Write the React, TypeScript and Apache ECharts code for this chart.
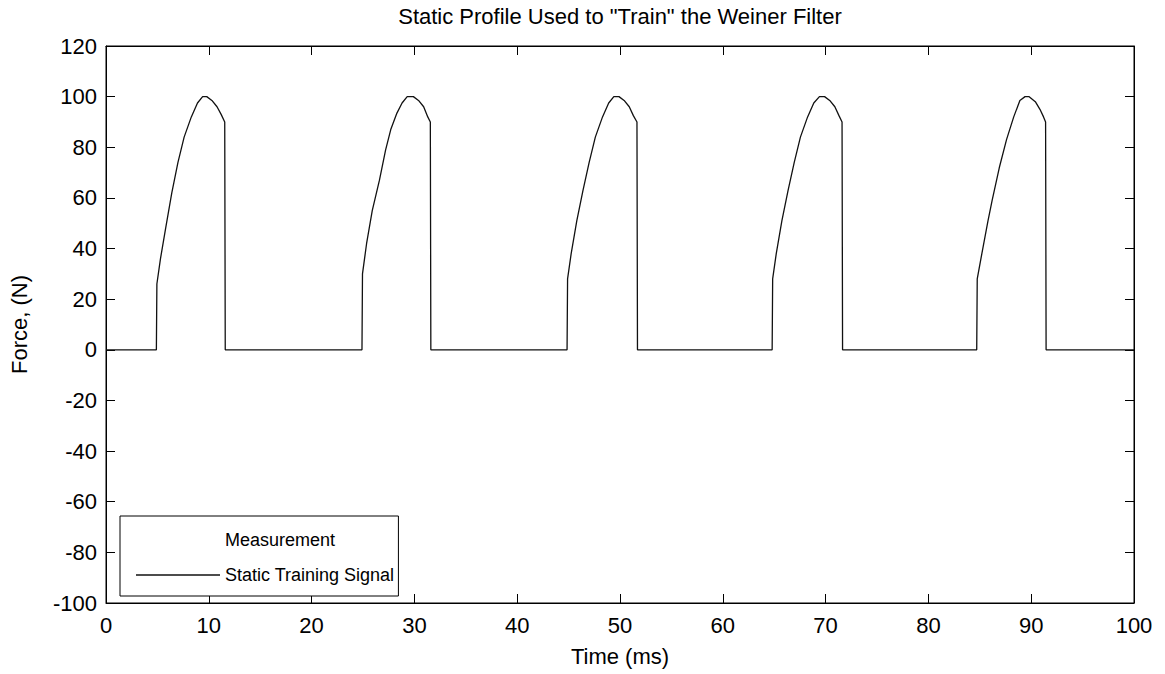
import React, { useEffect, useRef } from "react";
import * as echarts from "echarts";

const titleText = 'Static Profile Used to "Train" the Weiner Filter';
const xName = "Time (ms)";
const yName = "Force, (N)";
const legendNames = ["Measurement", "Static Training Signal"];

const xTicks = { min: 0, max: 100, interval: 10 };
const yTicks = { min: -100, max: 120, interval: 20 };

// [time (ms), force (N)]
const baseline0: number[][] = [[0, 0], [4.9, 0]];
const pulse1: number[][] = [
  [4.95, 26], [5.3, 36], [5.8, 48], [6.4, 62], [7.0, 74], [7.6, 84], [8.3, 92],
  [8.9, 97.5], [9.4, 100], [9.8, 100], [10.3, 98.5], [10.8, 96], [11.2, 93], [11.55, 90], [11.6, 0],
];
const baseline1: number[][] = [[24.9, 0]];
const pulse2: number[][] = [
  [24.95, 30], [25.35, 42], [25.9, 55], [26.6, 67], [27.2, 79], [27.7, 87], [28.3, 93.5],
  [28.8, 97.5], [29.3, 100], [29.9, 100], [30.4, 98.5], [30.9, 96], [31.3, 92], [31.55, 90], [31.6, 0],
];
const baseline2: number[][] = [[44.85, 0]];
const pulse3: number[][] = [
  [44.9, 28], [45.25, 38], [45.8, 51], [46.4, 63], [47.0, 74], [47.6, 84], [48.3, 92],
  [48.9, 97.5], [49.4, 100], [49.9, 100], [50.4, 98.5], [50.9, 96], [51.3, 92.5], [51.65, 90], [51.7, 0],
];
const baseline3: number[][] = [[64.8, 0]];
const pulse4: number[][] = [
  [64.85, 28], [65.2, 38], [65.75, 51], [66.35, 63], [66.95, 74], [67.55, 84], [68.25, 92],
  [68.85, 97.5], [69.4, 100], [69.9, 100], [70.4, 98.5], [70.9, 96], [71.3, 92.5], [71.6, 90], [71.65, 0],
];
const baseline4: number[][] = [[84.7, 0]];
const pulse5: number[][] = [
  [84.75, 28], [85.2, 38], [85.8, 51], [86.2, 59], [86.9, 72], [87.6, 83], [88.3, 92],
  [88.9, 98.5], [89.4, 100], [89.8, 100], [90.4, 98], [90.85, 95], [91.2, 92], [91.4, 90], [91.45, 0],
];
const baseline5: number[][] = [[100, 0]];

const signal: number[][] = [
  ...baseline0, ...pulse1, ...baseline1, ...pulse2, ...baseline2, ...pulse3,
  ...baseline3, ...pulse4, ...baseline4, ...pulse5, ...baseline5,
];

const FONT = "'Liberation Sans', Arial, sans-serif";

export default function App() {
  const ref = useRef<HTMLDivElement>(null);
  useEffect(() => {
    document.body.style.margin = "0";
    if (!ref.current) return;
    const chart = echarts.init(ref.current, null, { renderer: "svg" });
    const axisCommon = {
      type: "value" as const,
      axisLine: { show: true, onZero: false, lineStyle: { color: "#000", width: 1 } },
      axisTick: { show: true, inside: true, length: 9, lineStyle: { color: "#000", width: 1 } },
      splitLine: { show: false },
    };
    chart.setOption({
      animation: false,
      backgroundColor: "#fff",
      textStyle: { fontFamily: FONT },
      title: {
        text: titleText,
        left: 620,
        top: 5,
        padding: 0,
        textAlign: "center",
        textStyle: { fontFamily: FONT, fontSize: 22, fontWeight: "normal", color: "#000" },
      },
      grid: { left: 106, right: 31, top: 46, bottom: 71, show: true, borderColor: "#000", borderWidth: 1 },
      xAxis: [
        {
          ...axisCommon,
          position: "bottom",
          min: xTicks.min,
          max: xTicks.max,
          interval: xTicks.interval,
          name: xName,
          nameLocation: "middle",
          nameGap: 42,
          nameTextStyle: { fontFamily: FONT, fontSize: 22, color: "#000" },
          axisLabel: { fontFamily: FONT, fontSize: 22, color: "#000", margin: 11 },
        },
        {
          ...axisCommon,
          position: "top",
          min: xTicks.min,
          max: xTicks.max,
          interval: xTicks.interval,
          axisLabel: { show: false },
        },
      ],
      yAxis: [
        {
          ...axisCommon,
          position: "left",
          min: yTicks.min,
          max: yTicks.max,
          interval: yTicks.interval,
          name: yName,
          nameLocation: "middle",
          nameGap: 76,
          nameTextStyle: { fontFamily: FONT, fontSize: 22, color: "#000" },
          axisLabel: { fontFamily: FONT, fontSize: 22, color: "#000", margin: 9 },
        },
        {
          ...axisCommon,
          position: "right",
          min: yTicks.min,
          max: yTicks.max,
          interval: yTicks.interval,
          axisLabel: { show: false },
        },
      ],
      legend: {
        data: legendNames,
        orient: "vertical",
        left: 120,
        top: 516,
        padding: [14, 4, 11, 16],
        itemGap: 15,
        itemWidth: 84,
        itemHeight: 1.3,
        icon: "rect",
        backgroundColor: "#fff",
        borderColor: "#000",
        borderWidth: 1,
        borderRadius: 0,
        selectedMode: false,
        textStyle: { fontFamily: FONT, fontSize: 18, color: "#000", lineHeight: 20 },
      },
      series: [
        {
          name: legendNames[0],
          type: "line",
          data: [],
          symbol: "none",
          itemStyle: { color: "#fff" },
          lineStyle: { color: "#fff", width: 1 },
        },
        {
          name: legendNames[1],
          type: "line",
          data: signal,
          symbol: "none",
          itemStyle: { color: "#111" },
          lineStyle: { color: "#111", width: 1.3 },
        },
      ],
    });
    return () => chart.dispose();
  }, []);
  return <div ref={ref} style={{ width: 1165, height: 674 }} />;
}
